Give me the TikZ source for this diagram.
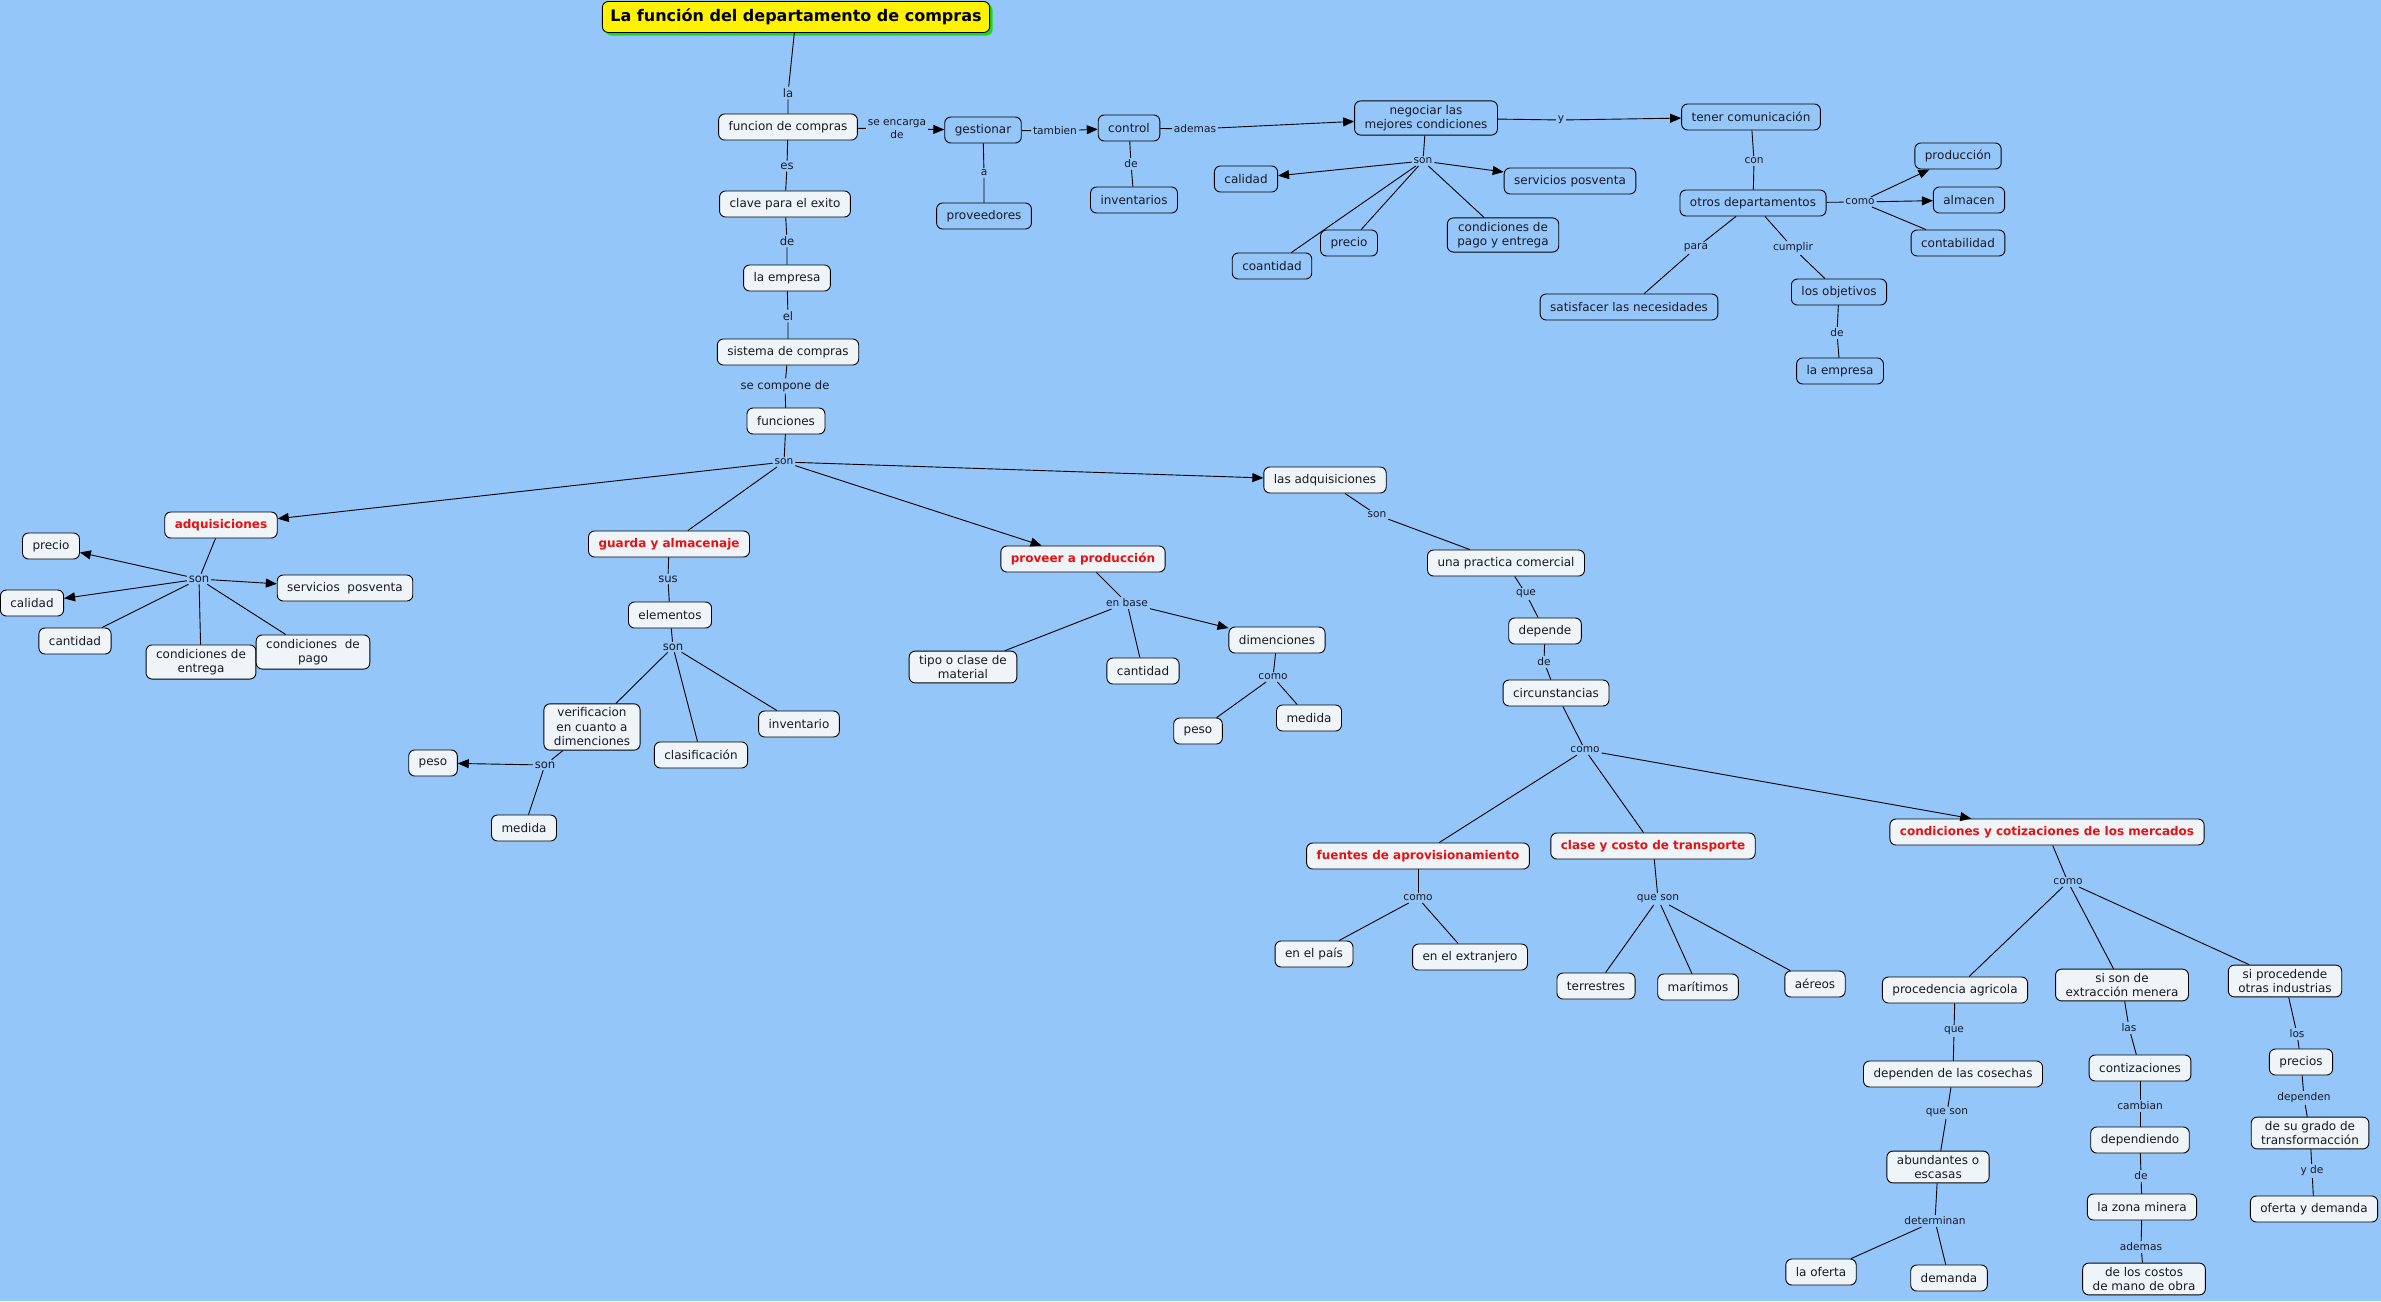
\documentclass[tikz,border=0pt]{standalone}
\usepackage{fontspec}
\setmainfont{DejaVu Sans}
\usetikzlibrary{arrows.meta,shadows}
\definecolor{bg}{RGB}{148,198,250}
\definecolor{cfill}{RGB}{238,244,247}
\definecolor{ink}{RGB}{25,25,35}
\definecolor{keyred}{RGB}{232,16,16}
\definecolor{tgreen}{RGB}{30,215,30}

\begin{document}
\begin{tikzpicture}[x=1pt,y=-1pt,line width=0.9pt]
\tikzset{cpt/.style={draw,rounded corners=6pt,fill=cfill,text=ink,font=\fontsize{12}{14.5}\selectfont,inner xsep=10pt,inner ysep=4pt,minimum height=26pt,align=center},
cptb/.style={cpt,fill=bg},
key/.style={cpt,text=keyred,font=\fontsize{12}{14.5}\selectfont\bfseries},
lnk/.style={text=ink,font=\fontsize{10.6}{12.5}\selectfont,inner sep=1.5pt,align=center},
lnkb/.style={lnk,font=\fontsize{11.6}{13}\selectfont},
arr/.style={-{Triangle[length=11pt,width=9pt]}}}

\fill[bg] (0,0) rectangle (2381,1301);
\useasboundingbox (0,0) rectangle (2381,1301);

% title and the main column
\path (796,17) node[draw,rounded corners=6pt,fill=yellow,text=black,font=\fontsize{16}{19}\selectfont\bfseries,inner xsep=8pt,minimum height=31pt,drop shadow={shadow xshift=3pt,shadow yshift=-3pt,fill=tgreen,opacity=1}] (t) {La función del departamento de compras};
\path (788,127) node[cpt] (fc) {funcion de compras};
\path (785,204) node[cpt] (cl) {clave para el exito};
\path (787,278) node[cpt] (emp) {la empresa};
\path (788,352) node[cpt] (sis) {sistema de compras};
\path (786,421) node[cpt] (fun) {funciones};

\path (788,93) node[lnkb] (la0) {la};
\path (787,166) node[lnkb] (es) {es};
\path (787,241) node[lnkb] (de1) {de};
\path (788,316) node[lnkb] (el) {el};
\path (785,386) node[lnkb] (scd) {se compone de};
\path (784,462) node[lnk] (son0) {son};

\draw (t) -- (la0) -- (fc);
\draw (fc) -- (es) -- (cl);
\draw (cl) -- (de1) -- (emp);
\draw (emp) -- (el) -- (sis);
\draw (sis) -- (scd) -- (fun);
\draw (fun) -- (son0);

% top row
\path (983,130) node[cptb] (ges) {gestionar};
\path (984,216) node[cptb] (prv) {proveedores};
\path (1129,128) node[cptb] (ctl) {control};
\path (1134,200) node[cptb] (inv) {inventarios};
\path (1426,118) node[cptb] (neg) {negociar las\\mejores condiciones};
\path (1246,179) node[cptb] (cal1) {calidad};
\path (1570,181) node[cptb] (spv1) {servicios posventa};
\path (1272,266) node[cptb] (coa) {coantidad};
\path (1349,243) node[cptb] (pre1) {precio};
\path (1503,235) node[cptb] (cpe) {condiciones de\\pago y entrega};
\path (1751,117) node[cptb] (ten) {tener comunicación};
\path (1753,203) node[cptb] (otr) {otros departamentos};
\path (1958,156) node[cptb] (prd) {producción};
\path (1969,200) node[cptb] (alm) {almacen};
\path (1958,243) node[cptb] (cont) {contabilidad};
\path (1629,307) node[cptb] (sat) {satisfacer las necesidades};
\path (1839,292) node[cptb] (obj) {los objetivos};
\path (1840,371) node[cptb] (emp2) {la empresa};

\path (897,129) node[lnk] (enc) {se encarga\\de};
\path (1055,131) node[lnk] (tam) {tambien};
\path (984,173) node[lnk] (a1) {a};
\path (1131,164) node[lnk] (de2) {de};
\path (1195,129) node[lnk] (ade) {ademas};
\path (1423,161) node[lnk] (son1) {son};
\path (1561,120) node[lnk] (y1) {y};
\path (1754,161) node[lnk] (con) {con};
\path (1860,202) node[lnk] (como1) {como};
\path (1696,248) node[lnk] (para) {para};
\path (1793,248) node[lnk] (cum) {cumplir};
\path (1837,333) node[lnk] (de3) {de};

\draw[arr] (fc) -- (enc) -- (ges);
\draw[arr] (ges) -- (tam) -- (ctl);
\draw (ges) -- (a1) -- (prv);
\draw (ctl) -- (de2) -- (inv);
\draw[arr] (ctl) -- (ade) -- (neg);
\draw (neg) -- (son1);
\draw[arr] (son1) -- (cal1);
\draw[arr] (son1) -- (spv1);
\draw (son1) -- (coa);
\draw (son1) -- (pre1);
\draw (son1) -- (cpe);
\draw[arr] (neg) -- (y1) -- (ten);
\draw (ten) -- (con) -- (otr);
\draw (otr) -- (como1);
\draw[arr] (como1) -- (prd);
\draw[arr] (como1) -- (alm);
\draw (como1) -- (cont);
\draw (otr) -- (para) -- (sat);
\draw (otr) -- (cum) -- (obj);
\draw (obj) -- (de3) -- (emp2);

% adquisiciones
\path (221,525) node[key] (adq) {adquisiciones};
\path (51,546) node[cpt] (pre2) {precio};
\path (32,603) node[cpt] (cal2) {calidad};
\path (75,641) node[cpt] (can1) {cantidad};
\path (201,662) node[cpt] (ce) {condiciones de\\entrega};
\path (313,652) node[cpt] (cp) {condiciones\ \ de\\pago};
\path (345,588) node[cpt] (spv2) {servicios\ \ posventa};
\path (199,579) node[lnkb] (son2) {son};

\draw[arr] (son0) -- (adq);
\draw (adq) -- (son2);
\draw[arr] (son2) -- (pre2);
\draw[arr] (son2) -- (cal2);
\draw[arr] (son2) -- (spv2);
\draw (son2) -- (can1);
\draw (son2) -- (ce);
\draw (son2) -- (cp);

% guarda y almacenaje
\path (669,544) node[key] (gua) {guarda y almacenaje};
\path (670,615) node[cpt] (ele) {elementos};
\path (592,727) node[cpt] (ver) {verificacion\\en cuanto a\\dimenciones};
\path (701,755) node[cpt] (cla) {clasificación};
\path (799,724) node[cpt] (invt) {inventario};
\path (433,763) node[cpt] (peso1) {peso};
\path (524,828) node[cpt] (med1) {medida};
\path (668,579) node[lnkb] (sus) {sus};
\path (673,647) node[lnkb] (son3) {son};
\path (545,765) node[lnkb] (son4) {son};

\draw (son0) -- (gua);
\draw (gua) -- (sus) -- (ele);
\draw (ele) -- (son3);
\draw (son3) -- (ver);
\draw (son3) -- (cla);
\draw (son3) -- (invt);
\draw (ver) -- (son4);
\draw[arr] (son4) -- (peso1);
\draw (son4) -- (med1);

% proveer a produccion
\path (1083,559) node[key] (pro) {proveer a producción};
\path (963,667) node[cpt] (tip) {tipo o clase de\\material};
\path (1143,671) node[cpt] (can2) {cantidad};
\path (1277,640) node[cpt] (dim) {dimenciones};
\path (1198,731) node[cpt] (peso2) {peso};
\path (1309,718) node[cpt] (med2) {medida};
\path (1127,603) node[lnk] (eb) {en base};
\path (1273,677) node[lnk] (como2) {como};

\draw[arr] (son0) -- (pro);
\draw (pro) -- (eb);
\draw (eb) -- (tip);
\draw (eb) -- (can2);
\draw[arr] (eb) -- (dim);
\draw (dim) -- (como2);
\draw (como2) -- (peso2);
\draw (como2) -- (med2);

% las adquisiciones
\path (1325,480) node[cpt] (lasad) {las adquisiciones};
\path (1506,563) node[cpt] (una) {una practica comercial};
\path (1545,631) node[cpt] (dep) {depende};
\path (1556,693) node[cpt] (cir) {circunstancias};
\path (1377,515) node[lnk] (son5) {son};
\path (1526,594) node[lnk] (que1) {que};
\path (1544,662) node[lnk] (de4) {de};
\path (1585,750) node[lnk] (como3) {como};

\draw[arr] (son0) -- (lasad);
\draw (lasad) -- (son5) -- (una);
\draw (una) -- (que1) -- (dep);
\draw (dep) -- (de4) -- (cir);
\draw (cir) -- (como3);

% circunstancias
\path (1418,856) node[key] (fue) {fuentes de aprovisionamiento};
\path (1314,954) node[cpt] (pais) {en el país};
\path (1470,957) node[cpt] (ext) {en el extranjero};
\path (1653,846) node[key] (cla2) {clase y costo de transporte};
\path (1596,986) node[cpt] (ter) {terrestres};
\path (1698,987) node[cpt] (mar) {marítimos};
\path (1815,984) node[cpt] (aer) {aéreos};
\path (2047,832) node[key] (ccm) {condiciones y cotizaciones de los mercados};
\path (1418,898) node[lnk] (como4) {como};
\path (1658,899) node[lnk] (qs1) {que son};
\path (2068,882) node[lnk] (como5) {como};

\draw (como3) -- (fue);
\draw (como3) -- (cla2);
\draw[arr] (como3) -- (ccm);
\draw (fue) -- (como4);
\draw (como4) -- (pais);
\draw (como4) -- (ext);
\draw (cla2) -- (qs1);
\draw (qs1) -- (ter);
\draw (qs1) -- (mar);
\draw (qs1) -- (aer);

% mercados
\path (1955,990) node[cpt] (agr) {procedencia agricola};
\path (2122,985) node[cpt] (ext2) {si son de\\extracción menera};
\path (2285,981) node[cpt] (ind) {si procedende\\otras industrias};
\path (1953,1074) node[cpt] (dlc) {dependen de las cosechas};
\path (1938,1167) node[cpt] (abu) {abundantes o\\escasas};
\path (1821,1272) node[cpt] (ofe) {la oferta};
\path (1949,1278) node[cpt] (dem) {demanda};
\path (2140,1068) node[cpt] (cot) {contizaciones};
\path (2140,1140) node[cpt] (dpd) {dependiendo};
\path (2142,1207) node[cpt] (zon) {la zona minera};
\path (2144,1279) node[cpt] (cos) {de los costos\\de mano de obra};
\path (2301,1062) node[cpt] (prc) {precios};
\path (2310,1133) node[cpt] (gra) {de su grado de\\transformacción};
\path (2314,1209) node[cpt] (oyd) {oferta y demanda};

\path (1954,1031) node[lnk] (que2) {que};
\path (1947,1113) node[lnk] (qs2) {que son};
\path (1935,1221) node[lnk] (det) {determinan};
\path (2129,1028) node[lnk] (las) {las};
\path (2140,1106) node[lnk] (cam) {cambian};
\path (2141,1176) node[lnk] (de5) {de};
\path (2141,1247) node[lnk] (ade2) {ademas};
\path (2297,1034) node[lnk] (los) {los};
\path (2304,1098) node[lnk] (dpn) {dependen};
\path (2312,1171) node[lnk] (yde) {y de};

\draw (ccm) -- (como5);
\draw (como5) -- (agr);
\draw (como5) -- (ext2);
\draw (como5) -- (ind);
\draw (agr) -- (que2) -- (dlc);
\draw (dlc) -- (qs2) -- (abu);
\draw (abu) -- (det);
\draw (det) -- (ofe);
\draw (det) -- (dem);
\draw (ext2) -- (las) -- (cot);
\draw (cot) -- (cam) -- (dpd);
\draw (dpd) -- (de5) -- (zon);
\draw (zon) -- (ade2) -- (cos);
\draw (ind) -- (los) -- (prc);
\draw (prc) -- (dpn) -- (gra);
\draw (gra) -- (yde) -- (oyd);
\end{tikzpicture}
\end{document}
